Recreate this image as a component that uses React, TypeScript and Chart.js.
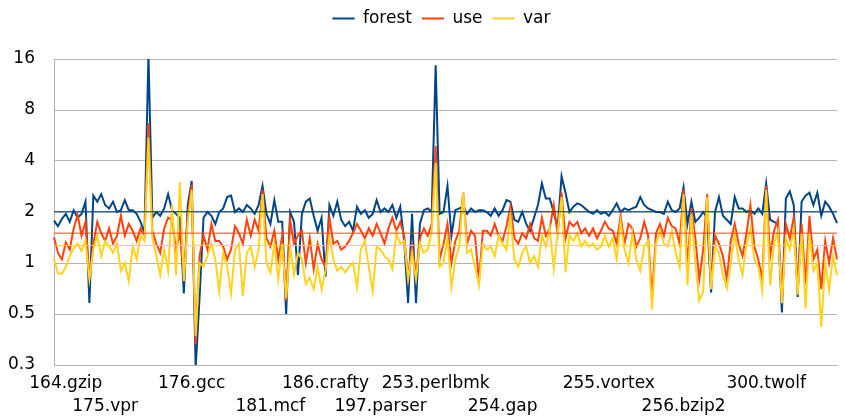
import { useEffect, useRef } from 'react';
import { Chart, registerables } from 'chart.js';

Chart.register(...registerables);

const seriesNames = ['forest', 'use', 'var'];
const seriesColors = ['#004586', '#ff420e', '#ffd320'];

const forest = [
  1.78, 1.65, 1.82, 1.95, 1.75, 2.05, 1.85, 1.95, 2.3, 0.58,
  2.5, 2.3, 2.55, 2.2, 2.1, 2.3, 2.0, 2.05, 2.35, 2.05,
  2.05, 1.95, 1.75, 1.5, 17, 1.85, 2.0, 1.9, 2.1, 2.55,
  2.05, 1.95, 1.85, 0.66, 2.2, 3.05, 0.24, 0.63, 1.85, 2.0,
  1.9, 1.7, 2.0, 2.1, 2.45, 2.5, 2.0, 2.1, 2.0, 2.2,
  2.1, 1.95, 2.2, 2.85, 1.95, 1.7, 2.35, 1.75, 1.75, 0.5,
  2.0, 1.75, 0.85, 1.95, 2.3, 2.4, 1.9, 1.55, 1.85, 0.83,
  2.2, 1.9, 2.3, 1.8, 1.65, 1.75, 1.55, 2.15, 1.95, 2.05,
  1.85, 1.95, 2.35, 2.0, 2.1, 2.0, 2.2, 1.85, 2.15, 1.35,
  0.58, 1.95, 0.58, 1.7, 2.05, 2.1, 2.0, 14.7, 1.95, 2.0,
  2.85, 1.45, 2.05, 2.1, 2.15, 1.95, 2.1, 2.0, 2.05, 2.05,
  2.0, 1.9, 2.1, 1.9, 2.05, 2.35, 2.3, 1.8, 1.75, 2.0,
  1.7, 1.55, 1.85, 2.2, 2.95, 2.4, 2.4, 2.0, 1.6, 3.25,
  2.6, 2.0, 2.15, 2.25, 2.2, 2.1, 2.0, 1.95, 2.05, 1.95,
  2.0, 1.9, 2.05, 2.25, 2.0, 2.1, 2.05, 2.1, 2.15, 2.45,
  2.2, 2.1, 2.05, 2.0, 2.0, 1.95, 2.3, 2.05, 2.0, 2.1,
  2.8, 1.7, 2.3, 1.75, 1.85, 2.0, 1.85, 0.67, 2.0, 2.45,
  1.9, 1.8, 1.7, 2.45, 2.1, 2.1, 2.0, 2.05, 1.95, 2.1,
  1.95, 2.95, 1.8, 1.75, 1.7, 0.51, 2.4, 2.65, 2.2, 0.63,
  2.3, 2.5, 2.6, 2.2, 2.6, 1.9, 2.3, 2.15, 1.95, 1.72,
];

const use = [
  1.42, 1.15, 1.05, 1.32, 1.2, 1.6, 1.92, 1.45, 1.75, 0.8,
  1.3, 1.75, 1.5, 1.35, 1.6, 1.3, 1.45, 1.9, 1.45, 1.7,
  1.55, 1.35, 1.6, 1.45, 6.7, 1.55, 1.3, 1.15, 1.6, 1.85,
  1.8, 1.2, 1.5, 0.85, 1.9, 2.9, 0.33, 1.1, 1.45, 1.2,
  1.7, 1.35, 1.35, 1.25, 1.05, 1.2, 1.65, 1.5, 1.3, 1.8,
  1.45, 1.8, 1.55, 2.7, 1.4, 1.25, 1.55, 1.05, 1.45, 0.6,
  1.8, 1.3, 1.45, 1.55, 1.0, 1.4, 0.92, 1.3, 1.05, 0.95,
  1.85, 1.3, 1.35, 1.2, 1.25, 1.35, 1.5, 1.7, 1.55, 1.4,
  1.6, 1.45, 1.7, 1.5, 1.3, 1.6, 1.85, 1.55, 1.75, 1.45,
  0.82, 1.25, 0.85, 1.4, 1.6, 1.45, 1.7, 4.9, 1.05, 1.3,
  1.7, 1.0, 1.35, 1.55, 2.6, 1.3, 1.55, 1.45, 0.78, 1.55,
  1.55, 1.45, 1.7, 1.45, 1.35, 1.65, 2.15, 1.4, 1.3, 1.5,
  1.4, 1.7, 1.4, 1.35, 1.85, 1.45, 1.6, 2.2, 1.5, 2.6,
  1.4, 1.75, 1.65, 1.75, 1.5, 1.6, 1.45, 1.6, 1.4, 1.55,
  1.75, 1.6, 1.55, 1.3, 1.9, 1.3, 1.7, 1.6, 1.25, 1.4,
  1.75, 1.45, 0.62, 1.5, 1.7, 1.45, 1.85, 1.65, 1.6, 1.3,
  2.7, 0.95, 2.1, 1.4, 0.8, 1.2, 2.55, 0.75, 1.45, 1.3,
  1.1, 0.8, 1.35, 1.7, 1.3, 1.1, 1.5, 2.2, 1.25, 1.05,
  0.8, 2.85, 1.1, 1.55, 1.8, 0.6, 1.7, 1.4, 1.85, 0.7,
  1.7, 0.75, 1.9, 1.05, 1.2, 0.7, 1.35, 1.0, 1.4, 1.05,
];

const varSeries = [
  1.06, 0.87, 0.86, 0.95, 1.1, 1.22, 1.3, 1.18, 1.35, 0.8,
  1.2, 1.45, 1.1, 1.35, 1.25, 1.15, 1.3, 0.9, 1.0, 0.78,
  1.25, 1.05, 1.45, 1.35, 5.5, 1.4, 1.1, 0.85, 1.2, 0.9,
  2.2, 0.85, 3.0, 0.78, 1.75, 2.7, 0.37, 1.0, 0.95, 1.1,
  1.3, 1.05, 0.68, 1.15, 0.95, 0.66, 1.2, 1.3, 0.64, 1.15,
  1.25, 0.95, 1.2, 2.55, 1.0, 0.88, 1.3, 0.8, 1.3, 0.62,
  1.25, 0.85, 1.15, 1.05, 0.75, 0.82, 0.7, 0.95, 0.7, 0.9,
  1.45, 1.05, 0.9, 0.95, 0.88, 0.95, 1.0, 0.72, 1.2, 1.35,
  0.95, 0.68, 1.25, 1.2, 1.1, 1.05, 0.92, 1.5, 1.3, 1.35,
  0.8, 1.15, 0.8, 1.3, 1.15, 1.2, 1.55, 3.9, 0.95, 1.0,
  1.4, 0.72, 1.05, 1.25, 2.6, 1.15, 1.2, 0.95, 0.74, 1.3,
  1.2, 1.25, 1.1, 1.45, 1.3, 1.2, 1.9, 1.05, 0.95, 1.15,
  1.25, 1.0, 1.1, 0.95, 1.45, 1.25, 1.6, 0.93, 1.5, 2.45,
  0.88, 1.45, 1.35, 1.5, 1.25, 1.35, 1.25, 1.3, 1.2, 1.25,
  1.45, 1.25, 1.4, 1.05, 1.75, 1.2, 1.0, 1.5, 1.05, 0.9,
  1.25, 1.35, 0.53, 1.3, 1.55, 1.3, 1.25, 1.55, 1.15, 0.95,
  2.55, 0.74, 1.95, 1.0, 0.6, 0.68, 2.45, 0.7, 1.25, 1.15,
  0.85, 0.71, 1.0, 1.5, 1.05, 0.85, 1.3, 1.6, 1.05, 0.95,
  0.69, 2.7, 0.74, 1.3, 1.55, 0.58, 1.4, 1.2, 1.6, 0.65,
  1.5, 0.54, 1.5, 0.9, 1.0, 0.42, 1.0, 0.69, 1.1, 0.85,
];

const seriesMeans = [2.01, 1.5, 1.27];

const benchmarkNames = [
  '164.gzip', '175.vpr', '176.gcc', '181.mcf', '186.crafty', '197.parser',
  '253.perlbmk', '254.gap', '255.vortex', '256.bzip2', '300.twolf',
];
const benchmarkIndex = [3, 13, 35, 55, 69, 83, 97, 114, 141, 160, 181];

const yTickValues = [0.25, 0.5, 1, 2, 4, 8, 16];
const yTickLabels = ['0.3', '0.5', '1', '2', '4', '8', '16'];

const FONT = 'DejaVu Sans';

export default function App() {
  const ref = useRef<HTMLCanvasElement | null>(null);

  useEffect(() => {
    if (!ref.current) return;
    const n = forest.length;
    const labels: (string | string[])[] = [];
    for (let i = 0; i < n; i++) labels.push('');
    benchmarkNames.forEach((name, k) => {
      labels[benchmarkIndex[k]] = k % 2 === 0 ? name : ['', name];
    });

    const values = [forest, use, varSeries];
    const datasets: any[] = values.map((d, k) => ({
      label: seriesNames[k],
      data: d,
      borderColor: seriesColors[k],
      backgroundColor: seriesColors[k],
      borderWidth: 2,
      pointRadius: 0,
      tension: 0,
      order: 3 - k,
    }));
    seriesMeans.forEach((m, k) => {
      datasets.push({
        label: seriesNames[k] + ' mean',
        data: labels.map(() => m),
        borderColor: seriesColors[k],
        backgroundColor: seriesColors[k],
        borderWidth: 1,
        pointRadius: 0,
        tension: 0,
        order: 0,
      });
    });

    const legendTweak = {
      id: 'legendTweak',
      afterInit(chart: any) {
        const lg = chart.legend;
        if (!lg) return;
        const fit = lg.fit.bind(lg);
        lg.fit = () => {
          fit();
          lg.height = 59;
        };
        const draw = lg.draw.bind(lg);
        lg.draw = (...args: any[]) => {
          const c = lg.ctx;
          c.save();
          c.translate(19, 0);
          draw(...args);
          c.restore();
        };
      },
    };

    const chart = new Chart(ref.current, {
      type: 'line',
      data: { labels, datasets },
      plugins: [legendTweak],
      options: {
        responsive: false,
        devicePixelRatio: 1,
        animation: false,
        events: [],
        layout: { padding: 0 },
        plugins: {
          tooltip: { enabled: false },
          legend: {
            position: 'top',
            labels: {
              boxWidth: 22,
              boxHeight: 2,
              padding: 10,
              color: '#000',
              font: { family: FONT, size: 17 },
              generateLabels: (c: any) =>
                Chart.defaults.plugins.legend.labels
                  .generateLabels(c)
                  .map((l: any) => ({ ...l, lineWidth: 0 })),
              filter: (item: any) => item.datasetIndex < 3,
              sort: (a: any, b: any) => a.datasetIndex - b.datasetIndex,
            },
          },
        },
        scales: {
          x: {
            type: 'category',
            offset: false,
            grid: { display: false, drawTicks: false },
            border: { display: true, color: '#b3b3b3', width: 1 },
            ticks: {
              autoSkip: false,
              maxRotation: 0,
              minRotation: 0,
              padding: 8,
              color: '#000',
              font: { family: FONT, size: 17, lineHeight: 1.3 },
            },
            afterFit: (s: any) => {
              s.height = 51;
            },
          },
          y: {
            type: 'logarithmic',
            min: 0.25,
            max: 16,
            grid: { color: '#b3b3b3', lineWidth: 1, drawTicks: false },
            border: { display: true, color: '#b3b3b3', width: 1 },
            afterBuildTicks: (s: any) => {
              s.ticks = yTickValues.map((v) => ({ value: v }));
            },
            ticks: {
              padding: 19,
              color: '#000',
              font: { family: FONT, size: 17 },
              callback: (_v: any, i: number) => yTickLabels[i],
            },
            afterFit: (s: any) => {
              s.width = 54;
            },
          },
        },
      } as any,
    });
    return () => chart.destroy();
  }, []);

  return (
    <div style={{ position: 'fixed', left: 0, top: 0, width: 845, height: 416, background: '#fff' }}>
      <canvas ref={ref} width={845} height={416} style={{ display: 'block', width: 845, height: 416 }} />
    </div>
  );
}
